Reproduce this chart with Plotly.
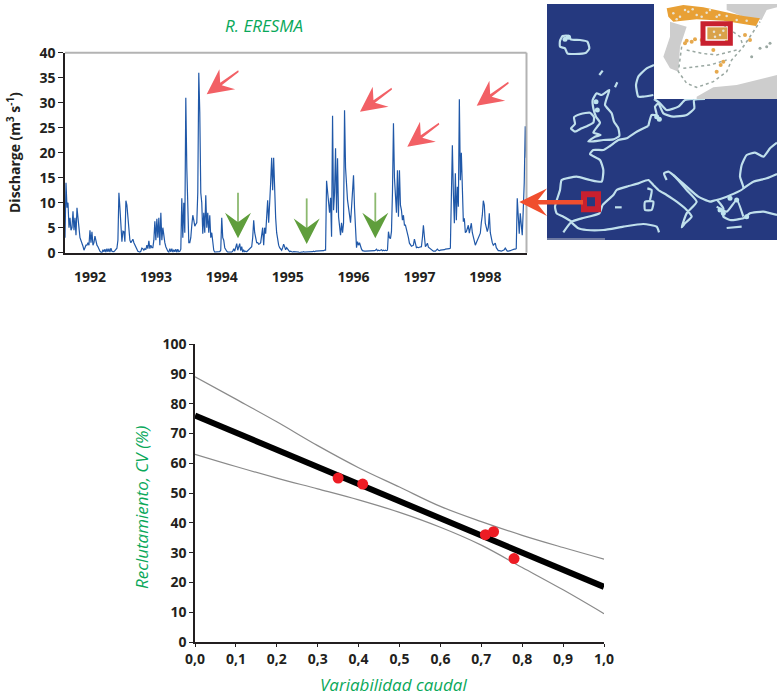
import numpy as np
import plotly.graph_objects as go

W, H = 777, 695

# ---------- Hydrograph ----------
discharge = [
 3,14,9,10,5,7,4.5,5,8.3,4.5,7,3.5,9,6,5,3,2.5,1.8,1.3,.5,1,1.5,1.5,2,1.5,4.5,2,4.2,1.5,2,3.3,2,1.5,1.2,.7,
 .3,.1,0,.6,.2,.7,.1,.8,.2,.8,.1,.9,.3,.2,.2,.4,.6,.9,2.5,12,9,4,2.2,4.3,4.2,2.2,10.4,9.5,6.5,4,2.5,2,2.5,2.7,2,1.5,1.3,.7,.3,.2,
 .1,.3,.9,.8,.5,.8,.6,1.5,.8,2.4,.8,1.5,1,1,2.5,6.3,2.5,6.8,3,7,1.5,8,2.5,5,3,2,1.2,.6,.3,.1,.8,.2,.8,.1,.6,.2,.7,.1,.7,.2,.3,.7,
 10.9,3,10,4,31,17,7,2,2,3,5.5,7.5,6.5,5.3,5.7,6,12,36,28,12,10,3.8,8,4,11.5,5,8,4,7.5,3,4,1.5,.5,.1,.1,.2,.1,.1,.2,.5,7,3,2.5,1,.5,.3,.1,.1,.1,.2,.1,.3,.8,.3,1,1.8,.5,1.2,1.8,.4,1.2,.1,.5,.2,.3,.2,.4,.6,.8,1,1.2,3,6.5,4,2.5,2,2,1.7,1.8,2,3.5,5,1.5,5,3.8,7,10.5,6,9,14,19,12.5,19,10,7,4,2,1.5,1,.7,.5,1,1.7,1.2,.6,1,.7,.6,.2,.3,.2,.1,.2,.2,
 .1,.1,.2,.1,0,.1,.1,.1,.2,.1,.1,.1,.1,.1,.2,.1,.2,.2,.3,.2,.3,.3,.3,.3,.4,.4,.4,.4,.4,.5,.5,14.4,12,10,8,11,3.2,27.4,8.5,12,20.9,8,18.9,7.2,5,3.5,6,4,5.9,28.5,17,12,10.5,9,7.2,6,9,12,15.5,9,5.2,1,2.2,1.5,2,1.2,.7,.4,.3,.3,.3,.3,.4,.3,.3,.3,.4,.3,.4,.4,.5,.7,.4,.5,.4,.5,.6,.4,.5,.4,.5,.4,.5,4.2,3,2.8,4.2,12,25.9,15,10.5,8,16.5,7.2,16.5,9.5,8.5,6.5,7.5,5.5,5.5,4.8,4.2,3,1.9,1.6,1.3,1.4,1.5,2.7,1.5,1,1.1,1,1.1,1.2,1.2,3,5.5,3.2,1.2,1.5,1.9,1.1,.9,.7,.5,.4,.3,.3,.3,.5,.7,.5,.4,.5,.5,.5,.6,.6,.7,.7,.7,.8,.8,.9,
 10.2,21.5,12,5.9,15.9,6.5,13.2,9.2,30.7,14.5,20,11.2,6.2,6.9,4,4.2,5,5.5,3.9,5,5.9,4,2.9,2.2,1.5,2,2.5,2.9,3.5,3.9,6,7.5,10.4,9.5,5.9,5,4.2,5,7.9,4,2.5,2,1.5,1.8,1.9,1,.6,.4,.4,.3,.3,.4,.5,.6,.9,.4,.3,.3,.3,.4,.5,.6,.6,.7,.7,.8,10.9,6,3.8,7.9,4.5,3.5,8.5,14,25.3,19,
]
record_start, record_end = 1991.62, 1998.62
record_time = np.linspace(record_start, record_end, len(discharge))
year_ticks = [1992, 1993, 1994, 1995, 1996, 1997, 1998]
discharge_ticks = [0, 5, 10, 15, 20, 25, 30, 35, 40]

# ---------- Regression ----------
var_caudal = [0.0, 0.1, 0.2, 0.3, 0.4, 0.5, 0.6, 0.7, 0.8, 0.9, 1.0]
ci_upper = [89, 81.5, 73.9, 65.9, 58.5, 52, 45.5, 40.4, 35.8, 31.7, 27.8]
ci_lower = [63, 58.9, 55, 51.4, 47.7, 43.5, 38.5, 32.5, 25, 17.5, 9.5]
fit_x = [0.0, 1.0]
fit_y = [76, 18.5]
obs_x = [0.35, 0.41, 0.71, 0.73, 0.78]
obs_y = [55, 53, 36, 37, 28]
x_ticks = var_caudal
x_labels = ["0,0", "0,1", "0,2", "0,3", "0,4", "0,5", "0,6", "0,7", "0,8", "0,9", "1,0"]
y_ticks = [0, 10, 20, 30, 40, 50, 60, 70, 80, 90, 100]

# ---------- Map outlines (map raster units) ----------
coasts = {
 "iceland": [(150,122),(158,108),(178,108),(182,118),(210,120),(232,125),(238,145),(228,158),(195,162),(172,160),(165,145),(150,140),(150,122)],
 "ireland": [(183,385),(195,372),(192,352),(212,342),(240,338),(252,352),(250,368),(232,378),(215,385),(195,395),(183,385)],
 "britain": [(248,300),(260,280),(275,285),(298,270),(290,295),(285,315),(305,340),(312,365),(325,385),(328,408),(310,418),(280,420),(235,425),(255,410),(272,405),(250,398),(262,380),(270,368),(258,350),(250,325),(248,300)],
 "faroe": [(268,225),(278,212)],
 "shetland": [(315,262),(322,247)],
 "norway": [(432,195),(410,205),(385,230),(378,255),(385,290),(400,290),(430,285)],
 "sweden": [(432,297),(450,310),(470,330),(505,320),(525,300),(550,297)],
 "baltic": [(415,378),(425,345),(440,345),(435,320),(445,310),(460,340),(490,350),(530,345),(553,325),(552,300),(585,297)],
 "atlantic": [(185,665),(160,650),(140,640),(135,620),(150,570),(155,540),(200,530),(240,540),(275,545),(280,510),(270,480),(240,462),(250,450),(280,450),(300,438),(325,420),(350,415),(380,395),(415,378)],
 "med_north": [(160,697),(185,665),(215,655),(268,640),(278,615),(310,585),(320,570),(350,560),(385,550),(415,540),(430,555),(445,570),(470,585),(500,605),(530,630),(545,650),(525,670),(515,682),(530,640),(560,605),(530,570),(495,530),(475,515),(462,520),(470,540)],
 "africa": [(185,668),(205,685),(230,690),(280,690),(340,680),(400,672),(440,680),(447,697)],
 "balkan": [(490,525),(530,560),(565,590),(600,605),(620,600),(640,625),(640,650),(660,660),(700,655),(720,640),(760,635),(801,645)],
 "turkey": [(620,600),(650,590),(700,565),(690,530),(695,495),(710,465),(735,458),(760,470),(780,445),(801,428)],
 "black_sea": [(700,565),(730,545),(770,535),(801,522)],
 "corsica": [(412,565),(425,570),(420,600)],
 "sardinia": [(405,605),(430,605),(425,630),(405,630),(405,605)],
 "balearic": [(315,622),(335,622)],
 "crete": [(650,684),(695,680)],
 "aegean": [(620,620),(650,635),(680,600),(700,650)],
}
shelf_x = [165,175,258,262,440,448,630,640,680,710,660]
shelf_y = [118,112,305,330,350,358,630,640,600,650,595]
seam = [(111,717),(285,717)]
portugal_grey = [(480,65),(530,80),(510,140),(505,215),(480,205),(460,170),(480,110),(480,65)]
france_grey = [(650,12),(801,12),(801,22),(770,30),(755,60),(700,50),(650,30),(650,12)]
africa_grey = [(560,290),(610,262),(680,255),(801,225),(801,297),(560,297),(560,290)]
north_orange = [(470,25),(520,15),(580,22),(640,35),(700,48),(750,55),(738,78),(700,72),(640,62),(560,58),(490,65),(475,50),(470,25)]
orange_patches = [(592,82),(652,82),(652,118),(592,118),(592,82)]
orange_spots_x = [545,555,640,632,620,720,705,525,610,650,530,575]
orange_spots_y = [125,118,185,195,215,120,105,130,150,125,122,120]
speck_x = [490,510,535,560,590,620,650,680,710,500,525,548,575,600,628,612,630,615,640]
speck_y = [40,50,35,45,38,50,48,60,62,58,30,28,50,30,45,95,105,110,92]
spain_rivers = {
 "coast": [(515,140),(505,215),(530,250),(560,262),(610,245),(650,215),(665,180),(700,140),(750,65)],
 "duero": [(530,150),(575,160),(620,165),(680,150)],
 "tajo": [(520,205),(600,195),(650,180)],
 "ebro": [(640,75),(690,110),(700,140)],
}
balearic_spots_x = [725,750,770,780]
balearic_spots_y = [170,145,140,130]

# ---------- Layout helpers ----------
def px(x): return x / W
def py(y): return 1 - y / H
def path(points):
    return "M " + " L ".join(f"{px(x):.5f},{py(y):.5f}" for x, y in points) + " Z"
def xs(pts): return [p[0] for p in pts]
def ys(pts): return [p[1] for p in pts]

FONT = "Open Sans"
INK = "#231f20"
GREEN = "#0aa85a"
COAST = "#c0e0ec"
SEA = "#25397f"

fig = go.Figure()

# Hydrograph
fig.add_trace(go.Scatter(x=record_time, y=discharge, mode="lines",
    line=dict(color="#2058a8", width=1.2), xaxis="x", yaxis="y", showlegend=False))

# Regression
for band in (ci_upper, ci_lower):
    fig.add_trace(go.Scatter(x=var_caudal, y=band, mode="lines",
        line=dict(color="#8a8a8a", width=1.2, shape="spline"), xaxis="x2", yaxis="y2", showlegend=False))
fig.add_trace(go.Scatter(x=fit_x, y=fit_y, mode="lines",
    line=dict(color="#000000", width=6), xaxis="x2", yaxis="y2", showlegend=False))
fig.add_trace(go.Scatter(x=obs_x, y=obs_y, mode="markers",
    marker=dict(color="#ed1c24", size=11), xaxis="x2", yaxis="y2", showlegend=False))

# Map
def area(pts, color):
    fig.add_trace(go.Scatter(x=xs(pts), y=ys(pts), mode="lines", fill="toself",
        fillcolor=color, line=dict(color=color, width=0), xaxis="x3", yaxis="y3", showlegend=False))

for pts in coasts.values():
    fig.add_trace(go.Scatter(x=xs(pts), y=ys(pts), mode="lines",
        line=dict(color=COAST, width=2.2, shape="spline", smoothing=0.5), xaxis="x3", yaxis="y3", showlegend=False))
fig.add_trace(go.Scatter(x=shelf_x, y=shelf_y, mode="markers",
    marker=dict(color="#bfe4ef", size=5), xaxis="x3", yaxis="y3", showlegend=False))
fig.add_trace(go.Scatter(x=xs(seam), y=ys(seam), mode="lines",
    line=dict(color="#b9bcc6", width=1), xaxis="x3", yaxis="y3", showlegend=False))
area([(432,12),(801,12),(801,297),(432,297),(432,12)], "#ffffff")
area(portugal_grey, "#cdcdcd")
area(france_grey, "#cdcdcd")
area(africa_grey, "#cdcdcd")
area(north_orange, "#e8a035")
area(orange_patches, "#d9a24a")
for pts in spain_rivers.values():
    fig.add_trace(go.Scatter(x=xs(pts), y=ys(pts), mode="lines",
        line=dict(color="#9aa8a2", width=1.5, dash="dot"), xaxis="x3", yaxis="y3", showlegend=False))
fig.add_trace(go.Scatter(x=orange_spots_x, y=orange_spots_y, mode="markers",
    marker=dict(color="#e6a94e", size=4), xaxis="x3", yaxis="y3", showlegend=False))
fig.add_trace(go.Scatter(x=speck_x, y=speck_y, mode="markers",
    marker=dict(color="#e9e4d6", size=2.5), xaxis="x3", yaxis="y3", showlegend=False))
fig.add_trace(go.Scatter(x=balearic_spots_x, y=balearic_spots_y, mode="markers",
    marker=dict(color="#9aa8a2", size=3), xaxis="x3", yaxis="y3", showlegend=False))

# Arrows
PINK = "#f26065"
def pink_arrow(tx, ty):
    return dict(type="path", xref="paper", yref="paper", fillcolor=PINK, line=dict(width=0),
        path=path([(tx,ty),(tx+12.7,ty-25),(tx+13.5,ty-11.5),(tx+31.5,ty-24),(tx+32,ty-22.3),
                   (tx+15,ty-9),(tx+28.5,ty-5)]))
def green_arrow(tx, ty):
    return [dict(type="path", xref="paper", yref="paper", fillcolor="#8cb96f", line=dict(width=0),
                 path=path([(tx-0.9,ty-45.6),(tx+0.9,ty-45.6),(tx+0.9,ty-12),(tx-0.9,ty-12)])),
            dict(type="path", xref="paper", yref="paper", fillcolor="#5f9e3c", line=dict(width=0),
                 path=path([(tx,ty),(tx-13,ty-25.6),(tx,ty-16),(tx+13,ty-25.6)]))]

shapes = [
    dict(type="line", xref="x domain", yref="y domain", x0=0, x1=1, y0=1, y1=1, line=dict(color="#b3b3b3", width=2)),
    dict(type="line", xref="x domain", yref="y domain", x0=1, x1=1, y0=0, y1=1, line=dict(color="#b3b3b3", width=2)),
    dict(type="rect", xref="x3", yref="y3", x0=222, x1=264, y0=583, y1=628, fillcolor="rgba(0,0,0,0)", line=dict(color="#c8202f", width=6)),
    dict(type="rect", xref="x3", yref="y3", x0=579, x1=661, y0=71, y1=130, fillcolor="rgba(0,0,0,0)", line=dict(color="#c8202f", width=5)),
    dict(type="path", xref="paper", yref="paper", fillcolor="#f04e2e", line=dict(width=0),
         path=path([(519.3,202),(547,188.5),(538,200),(583,200),(583,204.5),(538,204.5),(547,216)])),
]
for t in [(206.7,94.3),(360,111.7),(407.3,146.7),(476.7,105.7)]:
    shapes.append(pink_arrow(*t))
for t in [(238,238.3),(306.7,244),(375.3,238.3)]:
    shapes.extend(green_arrow(*t))

tick_font = dict(family=FONT, size=14, color=INK, weight=700)
title_font = dict(family=FONT, size=17, color=GREEN, style="italic")

def label(text, x, y, font, angle=0):
    return dict(text=text, xref="paper", yref="paper", x=px(x), y=py(y), xanchor="center", yanchor="middle",
                showarrow=False, textangle=angle, font=font)

fig.update_layout(
    width=W, height=H, margin=dict(l=0, r=0, t=0, b=0, autoexpand=False),
    paper_bgcolor="white", plot_bgcolor="white", showlegend=False,
    shapes=shapes,
    xaxis=dict(domain=[px(65), px(526.5)], range=[record_start, record_end + 0.004],
        tickvals=year_ticks, ticktext=[str(y) for y in year_ticks], ticks="", ticklabelstandoff=11,
        tickfont=tick_font, showgrid=False, zeroline=False, showline=True, linecolor=INK, linewidth=1.5),
    yaxis=dict(domain=[py(252.7), py(52.7)], range=[0, 40], tickvals=discharge_ticks, ticks="outside",
        ticklen=5, tickcolor=INK, tickfont=tick_font, showgrid=False, zeroline=False, showline=True,
        linecolor=INK, linewidth=1.5),
    xaxis2=dict(domain=[px(195), px(604)], range=[0, 1], tickvals=x_ticks, ticktext=x_labels, ticks="outside",
        ticklen=3, tickcolor=INK, tickfont=tick_font, showgrid=False, zeroline=False, showline=True,
        linecolor=INK, linewidth=1.5, anchor="y2"),
    yaxis2=dict(domain=[py(642), py(344)], range=[0, 100], tickvals=y_ticks, ticks="outside", ticklen=4,
        tickcolor=INK, tickfont=tick_font, showgrid=False, zeroline=False, showline=True,
        linecolor=INK, linewidth=1.5, anchor="x2"),
    xaxis3=dict(domain=[px(547), 1], range=[111, 801], visible=False, anchor="y3"),
    yaxis3=dict(domain=[py(240), py(4)], range=[720, 12], visible=False, anchor="x3"),
    annotations=[
        label("R. ERESMA", 264, 25, title_font),
        label("Discharge (m<sup>3</sup> s<sup>-1</sup>)", 14, 153,
              dict(family=FONT, size=14, color=INK, weight=700), angle=-90),
        label("Variabilidad caudal", 393, 684, title_font),
        label("Reclutamiento, CV (%)", 141, 508, title_font, angle=-90),
    ],
)

# Sea background for the map panel
fig.add_shape(type="rect", xref="x3", yref="y3", x0=111, x1=801, y0=12, y1=720,
              fillcolor=SEA, line=dict(width=0), layer="below")

fig.write_html("out.html", config={"displayModeBar": False},
               post_script="document.body.style.margin='0';")
